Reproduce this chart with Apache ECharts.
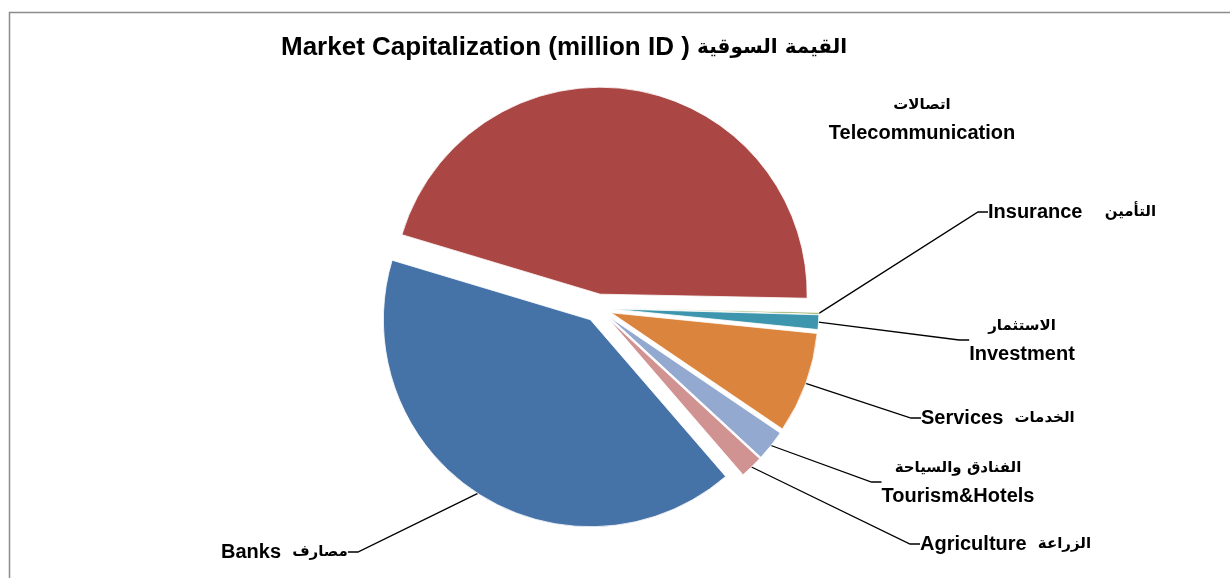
<!DOCTYPE html>
<html>
<head>
<meta charset="utf-8">
<script src="https://cdn.jsdelivr.net/npm/echarts@6/dist/echarts.min.js"></script>
<style>
  html, body { margin: 0; padding: 0; background: #fff; }
  #chart { width: 1230px; height: 578px; }
</style>
</head>
<body>
<div id="chart"></div>
<script>
// sector order as drawn, clockwise from the lower right
const sectors = ['Banks', 'Telecommunication', 'Insurance', 'Investment', 'Services', 'Tourism&Hotels', 'Agriculture']
const labelsAr = ['مصارف', 'اتصالات', 'التأمين', 'الاستثمار', 'الخدمات', 'الفنادق والسياحة', 'الزراعة']
// market capitalization, share of total (%)
const values = [41.0, 45.7, 0.14, 1.14, 7.9, 2.4, 1.78]
const colors = ['#4572A7', '#AA4643', '#89A54E', '#3D96AE', '#DB843D', '#93A9CF', '#D19392']

// where Excel put each label: [x, y, align]
const labelSpots = [
  [221, 552, 'left'],
  [922, 119, 'center'],
  [988, 212, 'left'],
  [1022, 340, 'center'],
  [921, 418, 'left'],
  [958, 482, 'center'],
  [920, 544, 'left']
]

const FONT = '"Liberation Sans", Arial, "DejaVu Sans", sans-serif'
const FONT_AR = '"DejaVu Sans", sans-serif'
const cx = 598
const cy = 308
const startAngle = -49.2
const explode = 14

function labelText (i) {
  const en = '{en|' + sectors[i] + '}'
  const ar = '{ar|' + labelsAr[i] + '}'
  if (i === 1 || i === 3 || i === 5) return ar + '\n' + en
  if (i === 2) return en + '    ' + ar
  return en + '  ' + ar
}

// every slice is pulled out of the pie a little (exploded pie),
// so each one gets its own series with the centre moved along its mid angle
const total = values.reduce((a, b) => a + b, 0)
let acc = 0
const series = values.map((v, k) => {
  const mid = (startAngle - (acc + v / 2) / total * 360) * Math.PI / 180
  acc += v
  return {
    type: 'pie',
    center: [cx + explode * Math.cos(mid), cy - explode * Math.sin(mid)],
    radius: 207,
    startAngle: startAngle,
    clockwise: true,
    avoidLabelOverlap: false,
    silent: true,
    emphasis: { disabled: true },
    label: {
      position: 'outside',
      fontFamily: FONT,
      fontWeight: 'bold',
      fontSize: 20,
      lineHeight: 28,
      color: '#000',
      formatter: p => labelText(p.dataIndex),
      rich: {
        en: { fontFamily: FONT, fontWeight: 'bold', fontSize: 20, lineHeight: 28, color: '#000' },
        ar: { fontFamily: FONT_AR, fontWeight: 'bold', fontSize: 15, lineHeight: 28, color: '#000' }
      }
    },
    labelLine: {
      length: 20,
      length2: 10,
      lineStyle: { color: '#000', width: 1.3 }
    },
    labelLayout: p => {
      const s = labelSpots[p.dataIndex]
      return { x: s[0], y: s[1], align: s[2], verticalAlign: 'middle' }
    },
    data: values.map((val, i) => ({
      name: sectors[i],
      value: val,
      itemStyle: i === k
        ? { color: colors[i], borderColor: '#fff', borderWidth: 0.8 }
        : { color: 'rgba(0,0,0,0)', borderWidth: 0 },
      label: { show: i === k },
      labelLine: { show: i === k && i !== 1 }
    }))
  }
})

const chart = echarts.init(document.getElementById('chart'))
chart.setOption({
  animation: false,
  backgroundColor: '#fff',
  title: {
    text: '{en|Market Capitalization (million ID )} {ar|القيمة السوقية}',
    left: 276,
    top: 28,
    textStyle: {
      fontFamily: FONT,
      fontWeight: 'bold',
      fontSize: 26,
      lineHeight: 30,
      color: '#000',
      rich: {
        en: { fontFamily: FONT, fontWeight: 'bold', fontSize: 26, lineHeight: 30, color: '#000' },
        ar: { fontFamily: FONT_AR, fontWeight: 'bold', fontSize: 20, lineHeight: 30, color: '#000' }
      }
    }
  },
  graphic: [{
    type: 'rect',
    shape: { x: 9.5, y: 12.5, width: 1240, height: 600 },
    style: { fill: 'none', stroke: '#8c8c8c', lineWidth: 1.5 },
    silent: true
  }],
  series: series
})
</script>
</body>
</html>
